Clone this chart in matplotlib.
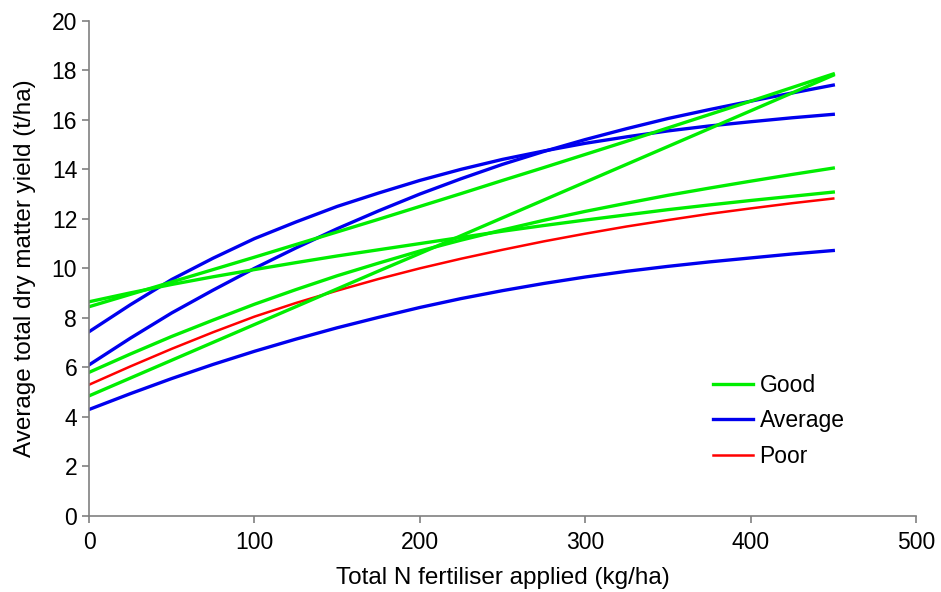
import matplotlib
matplotlib.use('Agg')
import matplotlib.pyplot as plt

plt.rcParams['font.family'] = ['Liberation Sans', 'DejaVu Sans']

# N applied (kg/ha)
n_applied = [0, 25, 50, 75, 100, 125, 150, 175, 200, 225,
             250, 275, 300, 325, 350, 375, 400, 425, 450]

# Good sites
good_1 = [8.45, 8.95, 9.45, 9.95, 10.45, 10.96, 11.47, 11.98, 12.5, 13.02,
          13.55, 14.07, 14.6, 15.13, 15.67, 16.21, 16.75, 17.3, 17.85]
good_2 = [8.65, 9.01, 9.35, 9.66, 9.95, 10.23, 10.5, 10.75, 11.0, 11.25,
          11.5, 11.73, 11.95, 12.16, 12.37, 12.56, 12.74, 12.91, 13.08]
good_3 = [5.8, 6.54, 7.25, 7.91, 8.55, 9.14, 9.7, 10.21, 10.7, 11.14,
          11.55, 11.94, 12.3, 12.63, 12.95, 13.24, 13.52, 13.79, 14.05]
good_4 = [4.85, 5.57, 6.29, 7.01, 7.73, 8.45, 9.17, 9.89, 10.6, 11.32,
          12.04, 12.76, 13.48, 14.2, 14.92, 15.64, 16.36, 17.08, 17.8]

# Average sites
avg_1 = [7.44, 8.53, 9.55, 10.41, 11.2, 11.87, 12.5, 13.04, 13.55, 14.0,
         14.4, 14.74, 15.05, 15.31, 15.55, 15.75, 15.92, 16.08, 16.22]
avg_2 = [6.1, 7.18, 8.2, 9.12, 10.0, 10.82, 11.6, 12.32, 13.0, 13.62,
         14.2, 14.72, 15.2, 15.64, 16.05, 16.41, 16.75, 17.08, 17.4]
avg_3 = [4.3, 4.94, 5.55, 6.12, 6.65, 7.14, 7.6, 8.02, 8.42, 8.78,
         9.1, 9.39, 9.65, 9.88, 10.08, 10.26, 10.42, 10.58, 10.72]

# Poor site
poor_1 = [5.3, 6.04, 6.75, 7.42, 8.05, 8.6, 9.1, 9.57, 10.0, 10.39,
          10.75, 11.09, 11.4, 11.69, 11.95, 12.2, 12.42, 12.63, 12.82]

green = '#00ee00'
blue = '#0000ee'
red = '#ff0000'
lw = 2.4
fs = 16.5

fig = plt.figure(figsize=(9.41, 5.92), dpi=100)
ax = fig.add_axes([0.0946, 0.1284, 0.8788, 0.8366])

ax.plot(n_applied, avg_1, color=blue, lw=lw)
ax.plot(n_applied, avg_2, color=blue, lw=lw)
ax.plot(n_applied, avg_3, color=blue, lw=lw)
ax.plot(n_applied, poor_1, color=red, lw=1.8)
ax.plot(n_applied, good_1, color=green, lw=lw)
ax.plot(n_applied, good_2, color=green, lw=lw)
ax.plot(n_applied, good_3, color=green, lw=lw)
ax.plot(n_applied, good_4, color=green, lw=lw)

# legend entries
h_good, = ax.plot([], [], color=green, lw=lw, label='Good')
h_avg, = ax.plot([], [], color=blue, lw=lw, label='Average')
h_poor, = ax.plot([], [], color=red, lw=1.8, label='Poor')
ax.legend(handles=[h_good, h_avg, h_poor], frameon=False, fontsize=fs,
          loc='upper left', bbox_to_anchor=(0.743, 0.306), handlelength=1.75,
          handletextpad=0.3, labelspacing=0.55, borderaxespad=0)

ax.set_xlim(0, 500)
ax.set_ylim(0, 20)
ax.set_xticks(range(0, 501, 100))
ax.set_yticks(range(0, 21, 2))
ax.spines['top'].set_visible(False)
ax.spines['right'].set_visible(False)
for s in ['left', 'bottom']:
    ax.spines[s].set_color('#808080')
    ax.spines[s].set_linewidth(1.2)
ax.tick_params(axis='both', colors='#808080', labelcolor='black', labelsize=fs,
               length=5, width=1.2, direction='out')
ax.tick_params(axis='x', pad=6)

ax.set_xlabel('Total N fertiliser applied (kg/ha)', fontsize=17.5, labelpad=9)
ax.set_ylabel('Average total dry matter yield (t/ha)', fontsize=17.5, labelpad=11)

plt.savefig('out.png', dpi=100)
